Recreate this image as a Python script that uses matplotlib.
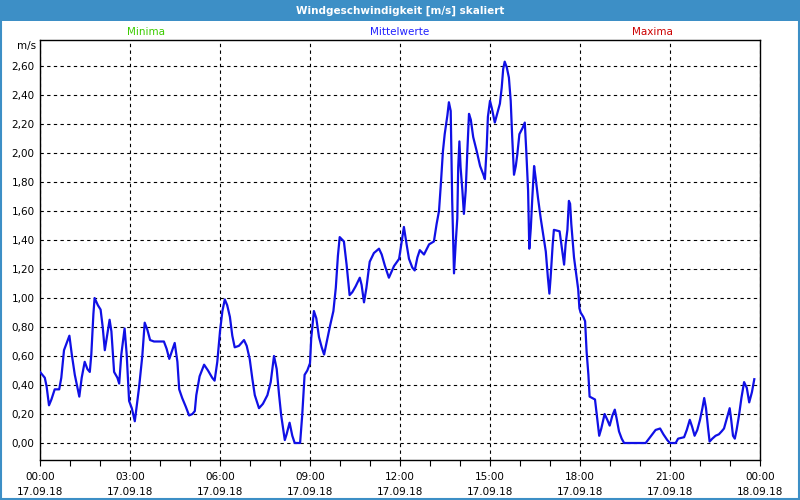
import matplotlib
matplotlib.use('Agg')
import matplotlib.pyplot as plt
from matplotlib.patches import Rectangle

# Mittelwerte (hours since 17.09.18 00:00, m/s)
hours = [0.0, 0.16, 0.22, 0.30, 0.38, 0.49, 0.64, 0.71, 0.80, 0.89, 0.98, 1.06, 1.16, 1.24, 1.31, 1.39,
	1.49, 1.58, 1.66, 1.71, 1.78, 1.82, 1.93, 2.02, 2.09, 2.16, 2.22, 2.32, 2.38, 2.47, 2.58, 2.64,
	2.71, 2.82, 2.89, 2.97, 3.06, 3.16, 3.22, 3.30, 3.41, 3.49, 3.58, 3.67, 3.80, 4.13, 4.22, 4.31,
	4.41, 4.49, 4.58, 4.64, 4.74, 4.86, 4.97, 5.08, 5.16, 5.21, 5.32, 5.47, 5.60, 5.74, 5.82, 5.91,
	6.0, 6.08, 6.16, 6.24, 6.33, 6.41, 6.49, 6.63, 6.80, 6.89, 6.99, 7.08, 7.16, 7.30, 7.43, 7.58,
	7.69, 7.80, 7.89, 7.97, 8.04, 8.16, 8.22, 8.32, 8.41, 8.49, 8.67, 8.74, 8.82, 8.91, 9.0, 9.04,
	9.13, 9.21, 9.30, 9.39, 9.47, 9.56, 9.67, 9.78, 9.86, 9.93, 9.99, 10.13, 10.22, 10.32, 10.41, 10.52,
	10.66, 10.72, 10.80, 10.88, 10.99, 11.13, 11.30, 11.39, 11.50, 11.63, 11.80, 11.97, 12.05, 12.13,
	12.22, 12.30, 12.41, 12.49, 12.58, 12.66, 12.80, 12.97, 13.13, 13.22, 13.30, 13.36, 13.43, 13.49,
	13.58, 13.63, 13.69, 13.74, 13.80, 13.86, 13.91, 13.94, 13.98, 14.02, 14.08, 14.13, 14.19, 14.24,
	14.30, 14.36, 14.44, 14.56, 14.67, 14.78, 14.83, 14.89, 14.93, 15.0, 15.06, 15.16, 15.24, 15.33,
	15.39, 15.44, 15.49, 15.56, 15.63, 15.69, 15.74, 15.80, 15.86, 15.91, 15.98, 16.08, 16.16, 16.21,
	16.27, 16.31, 16.36, 16.41, 16.47, 16.52, 16.60, 16.69, 16.77, 16.86, 16.93, 16.98, 17.02, 17.09,
	17.13, 17.32, 17.39, 17.47, 17.52, 17.58, 17.63, 17.67, 17.71, 17.80, 17.89, 17.94, 17.98, 18.02,
	18.11, 18.17, 18.22, 18.28, 18.32, 18.41, 18.50, 18.56, 18.64, 18.71, 18.82, 18.91, 18.99, 19.08,
	19.16, 19.22, 19.30, 19.39, 19.47, 20.19, 20.30, 20.41, 20.52, 20.67, 20.78, 20.91, 21.0, 21.19,
	21.27, 21.47, 21.56, 21.66, 21.74, 21.82, 21.91, 22.0, 22.08, 22.14, 22.20, 22.27, 22.32, 22.41,
	22.52, 22.63, 22.72, 22.80, 22.88, 22.93, 22.99, 23.04, 23.10, 23.16, 23.22, 23.30, 23.38, 23.47,
	23.56, 23.64, 23.73, 23.81]
speed = [0.49, 0.45, 0.39, 0.26, 0.30, 0.37, 0.37, 0.45, 0.64, 0.69, 0.74, 0.61, 0.47, 0.39, 0.32, 0.45,
	0.56, 0.51, 0.49, 0.61, 0.89, 1.00, 0.95, 0.92, 0.80, 0.64, 0.72, 0.85, 0.77, 0.49, 0.45, 0.41,
	0.61, 0.79, 0.61, 0.29, 0.24, 0.15, 0.25, 0.38, 0.60, 0.83, 0.78, 0.71, 0.70, 0.70, 0.65, 0.58,
	0.64, 0.69, 0.56, 0.37, 0.31, 0.25, 0.19, 0.20, 0.22, 0.33, 0.46, 0.54, 0.50, 0.45, 0.43, 0.56,
	0.77, 0.91, 0.99, 0.95, 0.87, 0.74, 0.66, 0.67, 0.71, 0.67, 0.58, 0.44, 0.33, 0.24, 0.27, 0.33,
	0.42, 0.60, 0.51, 0.33, 0.19, 0.02, 0.06, 0.14, 0.05, 0.0, 0.0, 0.19, 0.47, 0.50, 0.55, 0.72,
	0.91, 0.86, 0.73, 0.66, 0.61, 0.70, 0.81, 0.91, 1.07, 1.29, 1.42, 1.39, 1.23, 1.02, 1.04, 1.08,
	1.14, 1.09, 0.97, 1.07, 1.25, 1.31, 1.34, 1.30, 1.22, 1.14, 1.22, 1.27, 1.38, 1.49,
	1.37, 1.27, 1.21, 1.19, 1.28, 1.33, 1.30, 1.37, 1.39, 1.51, 1.60, 1.78, 2.01, 2.13,
	2.26, 2.35, 2.29, 1.67, 1.17, 1.39, 1.55, 1.90, 2.08, 1.90, 1.74, 1.58, 1.74, 1.99,
	2.27, 2.23, 2.11, 2.01, 1.91, 1.85, 1.82, 2.04, 2.25, 2.36, 2.31, 2.21, 2.27, 2.34,
	2.45, 2.58, 2.63, 2.59, 2.52, 2.36, 2.11, 1.85, 1.91, 1.99, 2.13, 2.17, 2.21, 2.01,
	1.74, 1.34, 1.48, 1.69, 1.91, 1.83, 1.69, 1.55, 1.44, 1.32, 1.14, 1.03, 1.14, 1.37,
	1.47, 1.46, 1.35, 1.23, 1.37, 1.47, 1.67, 1.65, 1.51, 1.28, 1.14, 1.06, 0.93, 0.90,
	0.87, 0.84, 0.63, 0.47, 0.32, 0.31, 0.30, 0.19, 0.05, 0.10, 0.20, 0.16, 0.12, 0.19,
	0.23, 0.17, 0.08, 0.03, 0.0, 0.0, 0.03, 0.06, 0.09, 0.10, 0.06, 0.02, 0.0, 0.0,
	0.03, 0.04, 0.09, 0.16, 0.11, 0.05, 0.09, 0.16, 0.24, 0.31, 0.24, 0.10, 0.01, 0.03,
	0.05, 0.06, 0.08, 0.10, 0.16, 0.20, 0.24, 0.16, 0.05, 0.03, 0.09, 0.19, 0.31, 0.42,
	0.38, 0.28, 0.35, 0.44]

tick_hours = [0, 3, 6, 9, 12, 15, 18, 21, 24]
tick_labels = ['00:00\n17.09.18', '03:00\n17.09.18', '06:00\n17.09.18', '09:00\n17.09.18',
	'12:00\n17.09.18', '15:00\n17.09.18', '18:00\n17.09.18', '21:00\n17.09.18', '00:00\n18.09.18']
y_ticks = [0.0, 0.2, 0.4, 0.6, 0.8, 1.0, 1.2, 1.4, 1.6, 1.8, 2.0, 2.2, 2.4, 2.6]

title = 'Windgeschwindigkeit [m/s] skaliert'
legend_names = ['Minima', 'Mittelwerte', 'Maxima']
legend_colors = ['#3ccc00', '#2020ff', '#cc0000']


def main():
	fig = plt.figure(figsize=(8, 5), dpi=100)
	fig.patch.set_facecolor('white')

	# blue title bar + thin window border
	fig.patches.append(Rectangle((0, 1 - 21/500.), 1, 21/500., transform=fig.transFigure,
		facecolor='#3d8fc6', edgecolor='none', zorder=0))
	fig.patches.append(Rectangle((0.001, 0.002), 0.998, 0.996, transform=fig.transFigure,
		facecolor='none', edgecolor='#3d8fc6', linewidth=1.5, zorder=0))
	fig.text(0.5, 1 - 10.5/500., title, color='white', fontweight='bold', fontsize=7.5,
		ha='center', va='center')

	ax = fig.add_axes([40/800., 40/500., 720/800., 420/500.])
	ax.plot(hours, speed, color='#1010e6', linewidth=1.6, zorder=3)

	ax.set_xlim(0, 24)
	ax.set_ylim(-17/145., 2.6 + 26/145.)

	ax.set_xticks(tick_hours)
	ax.set_xticklabels(tick_labels, fontsize=7.5, linespacing=1.55)
	ax.set_xticks(range(0, 25), minor=True)
	ax.tick_params(axis='x', which='both', direction='out', length=4, width=0.8, pad=5)
	ax.set_yticks(y_ticks)
	ax.set_yticklabels([('%.2f' % v).replace('.', ',') for v in y_ticks], fontsize=7.5)
	ax.yaxis.set_tick_params(length=0, pad=4)

	ax.grid(True, which='major', color='black', linestyle=(0, (3, 3)), linewidth=0.8)
	for s in ax.spines.values():
		s.set_color('black')
		s.set_linewidth(1.0)

	fig.text(36/800., 1 - 46/500., 'm/s', fontsize=7.5, ha='right', va='center')
	for name, col, xc in zip(legend_names, legend_colors, [146, 400, 652]):
		fig.text(xc/800., 1 - 32/500., name, color=col, fontsize=7.5, ha='center', va='center')

	plt.savefig('out.png', dpi=100)
	plt.close()


if __name__ == '__main__':
	main()
